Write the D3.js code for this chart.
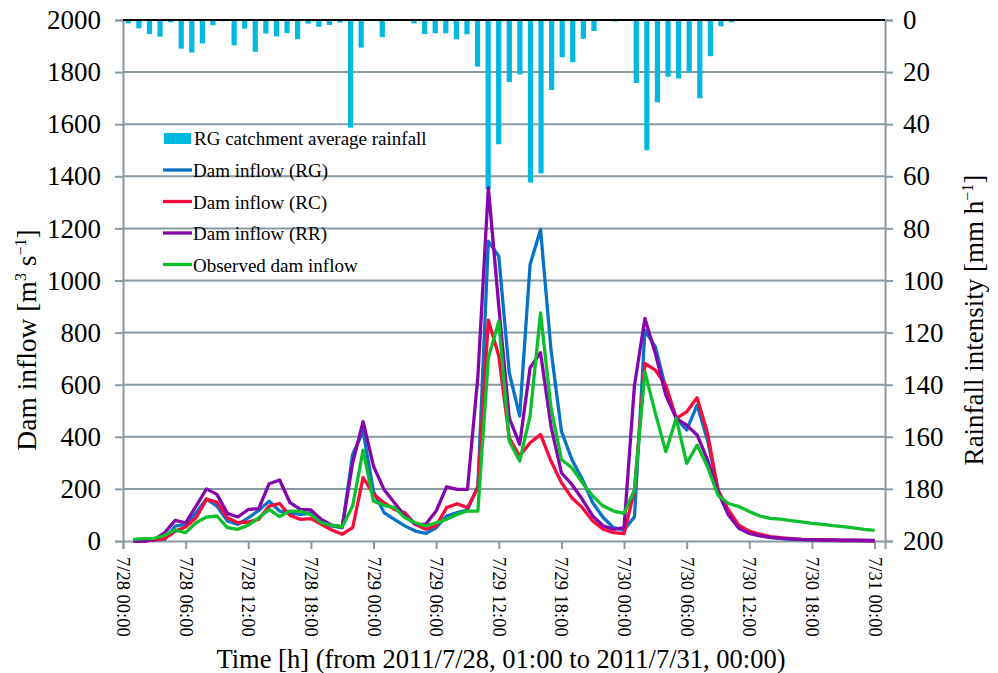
<!DOCTYPE html>
<html>
<head>
<meta charset="utf-8">
<script src="https://d3js.org/d3.v7.min.js"></script>
<style>
  body { margin: 0; background: #fff; }
  text { font-family: "Liberation Serif", "Times New Roman", serif; fill: #000; }
  .tick text { font-family: "Liberation Serif", "Times New Roman", serif; fill: #000; }
  .y-ticks .tick text { font-size: 27px; }
  .x-ticks .tick text { font-size: 18.5px; }
</style>
</head>
<body>
<div id="vis"></div>
<script>
// hours after 7/28 00:00 (01:00 ... 7/31 00:00)
var hours = d3.range(1, 73);

// RG catchment average rainfall [mm/h], one bar per hour
var rainfall = [1.3, 3.2, 5.4, 6.4, 0.9, 11, 12.5, 9, 2, 0.5, 9.7, 3.3, 12.2, 5.2, 6.3, 5, 7.4, 1.4,
  2.6, 1.9, 1, 41.3, 10.6, 0, 6.6, 0.3, 0.3, 1.3, 5.4, 5.1, 5.1, 7.4, 5.5, 17.9, 65, 47.7, 23.8,
  20.9, 62.4, 58.9, 26.9, 14.3, 16.2, 7.2, 4.2, 0, 0.6, 0, 24.2, 50, 31.6, 21.8, 22.5, 20.2, 30.1,
  13.9, 2.4, 0.9, 0.3, 0.3, 0, 0.3, 0, 0, 0, 0, 0, 0, 0, 0, 0, 0];

var inflowRG = [0, 0, 4, 6, 57, 64, 108, 162, 134, 77, 64, 89, 117, 153, 115, 108, 102, 106, 70, 57,
  51, 332, 421, 190, 109, 83, 58, 38, 29, 51, 96, 109, 119, 211, 1151, 1093, 646, 480, 1061, 1196,
  735, 422, 313, 237, 147, 90, 51, 42, 93, 809, 745, 586, 471, 426, 522, 387, 196, 106, 55, 32, 22,
  14, 10, 6, 4, 3, 2, 2, 1, 1, 1, 1];

var inflowRC = [0, 0, 3, 9, 38, 54, 89, 160, 149, 89, 70, 73, 83, 134, 144, 98, 83, 86, 64, 42, 26,
  51, 243, 180, 147, 121, 109, 64, 45, 58, 128, 143, 128, 205, 848, 710, 396, 326, 377, 409, 307,
  224, 166, 128, 77, 45, 32, 28, 196, 682, 656, 598, 471, 496, 550, 413, 196, 119, 61, 38, 26, 17,
  13, 9, 6, 5, 4, 3, 2, 2, 2, 1];

var inflowRR = [0, 0, 6, 32, 79, 70, 134, 200, 179, 106, 92, 121, 124, 220, 234, 147, 121, 119, 83,
  61, 54, 300, 458, 287, 198, 147, 96, 64, 64, 115, 208, 198, 198, 633, 1356, 902, 473, 371, 665,
  723, 441, 262, 217, 160, 96, 58, 45, 51, 598, 854, 720, 560, 471, 445, 407, 311, 189, 100, 49, 29,
  20, 14, 10, 8, 6, 5, 4, 4, 3, 3, 2, 2];

var inflowObs = [6, 9, 10, 22, 42, 32, 70, 92, 96, 51, 45, 61, 89, 121, 94, 115, 115, 101, 70, 60,
  55, 134, 349, 153, 137, 128, 90, 70, 58, 70, 83, 102, 115, 115, 703, 844, 384, 307, 480, 876, 512,
  313, 281, 224, 173, 134, 115, 106, 196, 650, 490, 343, 471, 298, 368, 285, 176, 144, 132, 113, 96,
  87, 84, 78, 73, 68, 64, 59, 55, 50, 45, 41];

var tickHours = d3.range(0, 73, 6);
var tickLabels = ['7/28 00:00', '7/28 06:00', '7/28 12:00', '7/28 18:00', '7/29 00:00',
  '7/29 06:00', '7/29 12:00', '7/29 18:00', '7/30 00:00', '7/30 06:00', '7/30 12:00',
  '7/30 18:00', '7/31 00:00'];

var seriesNames = ['Dam inflow (RG)', 'Dam inflow (RC)', 'Dam inflow (RR)', 'Observed dam inflow'];
var seriesColors = ['#0872c4', '#fa0a3c', '#8406ac', '#0cbf2c'];
var rainColor = '#00b9de';
var gridColor = '#8a9aa3';

function drawChart() {
  var width = 998;
  var height = 673;
  var plotLeft = 123, plotRight = 885, plotTop = 20, plotBottom = 541;

  var svg = d3.select('#vis').append('svg')
    .attr('width', width)
    .attr('height', height);

  var x = d3.scaleLinear().domain([0, 73]).range([plotLeft, plotRight]);
  var xBar = d3.scaleBand().domain(d3.range(rainfall.length)).range([plotLeft, plotRight]);
  var y = d3.scaleLinear().domain([0, 2000]).range([plotBottom, plotTop]);
  var yRain = d3.scaleLinear().domain([0, 200]).range([plotTop, plotBottom]);

  // gridlines
  svg.append('g')
    .selectAll('line')
    .data(d3.range(200, 2001, 200))
    .enter().append('line')
    .attr('x1', plotLeft)
    .attr('x2', plotRight)
    .attr('y1', function (d) { return y(d); })
    .attr('y2', function (d) { return y(d); })
    .attr('stroke', gridColor)
    .attr('stroke-width', 2);

  // axes
  var axisLeft = svg.append('g')
    .attr('class', 'y-ticks')
    .attr('transform', 'translate(' + plotLeft + ',0)')
    .call(d3.axisLeft(y).tickValues(d3.range(0, 2001, 200)).tickFormat(d3.format('d'))
      .tickSizeOuter(0).tickSize(8).tickPadding(14));

  var axisRight = svg.append('g')
    .attr('class', 'y-ticks')
    .attr('transform', 'translate(' + plotRight + ',0)')
    .call(d3.axisRight(yRain).tickValues(d3.range(0, 201, 20)).tickFormat(d3.format('d'))
      .tickSizeOuter(0).tickSize(8).tickPadding(10));

  var axisBottom = svg.append('g')
    .attr('class', 'x-ticks')
    .attr('transform', 'translate(0,' + plotBottom + ')')
    .call(d3.axisBottom(x).tickValues(tickHours)
      .tickFormat(function (d, i) { return tickLabels[i]; })
      .tickSizeOuter(0).tickSize(8));

  [axisLeft, axisRight, axisBottom].forEach(function (g) {
    g.attr('font-family', null).attr('font-size', null);
    g.select('.domain').attr('stroke', gridColor).attr('stroke-width', 2);
    g.selectAll('.tick line').attr('stroke', gridColor).attr('stroke-width', 2);
    g.selectAll('.tick text').attr('fill', '#000');
  });

  axisBottom.selectAll('.tick text')
    .attr('text-anchor', 'start')
    .attr('transform', 'rotate(90)')
    .attr('x', 16)
    .attr('y', 0)
    .attr('dy', '0.35em');

  // rainfall bars hanging from the top
  svg.append('g')
    .selectAll('rect')
    .data(rainfall)
    .enter().append('rect')
    .attr('x', function (d, i) { return xBar(i) + xBar.bandwidth() / 2 - 2.6; })
    .attr('y', yRain(0))
    .attr('width', 5.2)
    .attr('height', function (d) { return yRain(d) - yRain(0); })
    .attr('fill', rainColor);

  // top axis line of the rainfall bars
  svg.append('line')
    .attr('x1', plotLeft)
    .attr('x2', plotRight)
    .attr('y1', yRain(0))
    .attr('y2', yRain(0))
    .attr('stroke', '#000')
    .attr('stroke-width', 2);

  // inflow lines
  var line = d3.line()
    .x(function (d, i) { return x(hours[i]); })
    .y(function (d) { return y(d); });

  [inflowRG, inflowRC, inflowRR, inflowObs].forEach(function (s, i) {
    svg.append('path')
      .datum(s)
      .attr('d', line)
      .attr('fill', 'none')
      .attr('stroke', seriesColors[i])
      .attr('stroke-width', 3.3)
      .attr('stroke-linejoin', 'round');
  });

  // legend
  var legend = svg.append('g').attr('transform', 'translate(163,138)');
  legend.append('rect')
    .attr('x', 1).attr('y', -5).attr('width', 27).attr('height', 11)
    .attr('fill', rainColor);
  legend.append('text')
    .attr('x', 31).attr('y', 7)
    .style('font-size', '19px')
    .text('RG catchment average rainfall');

  seriesNames.forEach(function (name, i) {
    var row = legend.append('g').attr('transform', 'translate(0,' + (32 + i * 31.5) + ')');
    row.append('line')
      .attr('x1', 0).attr('x2', 29)
      .attr('stroke', seriesColors[i])
      .attr('stroke-width', 3.3);
    row.append('text')
      .attr('x', 30).attr('y', 7)
      .style('font-size', '19px')
      .text(name);
  });

  // axis titles
  svg.append('text')
    .attr('x', (plotLeft + plotRight) / 2 - 3)
    .attr('y', 668)
    .attr('text-anchor', 'middle')
    .style('font-size', '26.5px')
    .text('Time [h] (from 2011/7/28, 01:00 to 2011/7/31, 00:00)');

  var yTitle = svg.append('text')
    .attr('transform', 'translate(36,340) rotate(-90)')
    .attr('text-anchor', 'middle')
    .style('font-size', '27.5px');
  yTitle.append('tspan').text('Dam inflow [m');
  yTitle.append('tspan').attr('dy', -10).style('font-size', '16px').text('3');
  yTitle.append('tspan').attr('dy', 10).text(' s');
  yTitle.append('tspan').attr('dy', -10).style('font-size', '16px').text('\u22121');
  yTitle.append('tspan').attr('dy', 10).text(']');

  var y2Title = svg.append('text')
    .attr('transform', 'translate(983,320) rotate(-90)')
    .attr('text-anchor', 'middle')
    .style('font-size', '27px');
  y2Title.append('tspan').text('Rainfall intensity [mm h');
  y2Title.append('tspan').attr('dy', -10).style('font-size', '16px').text('\u22121');
  y2Title.append('tspan').attr('dy', 10).text(']');
}

drawChart();
</script>
</body>
</html>
